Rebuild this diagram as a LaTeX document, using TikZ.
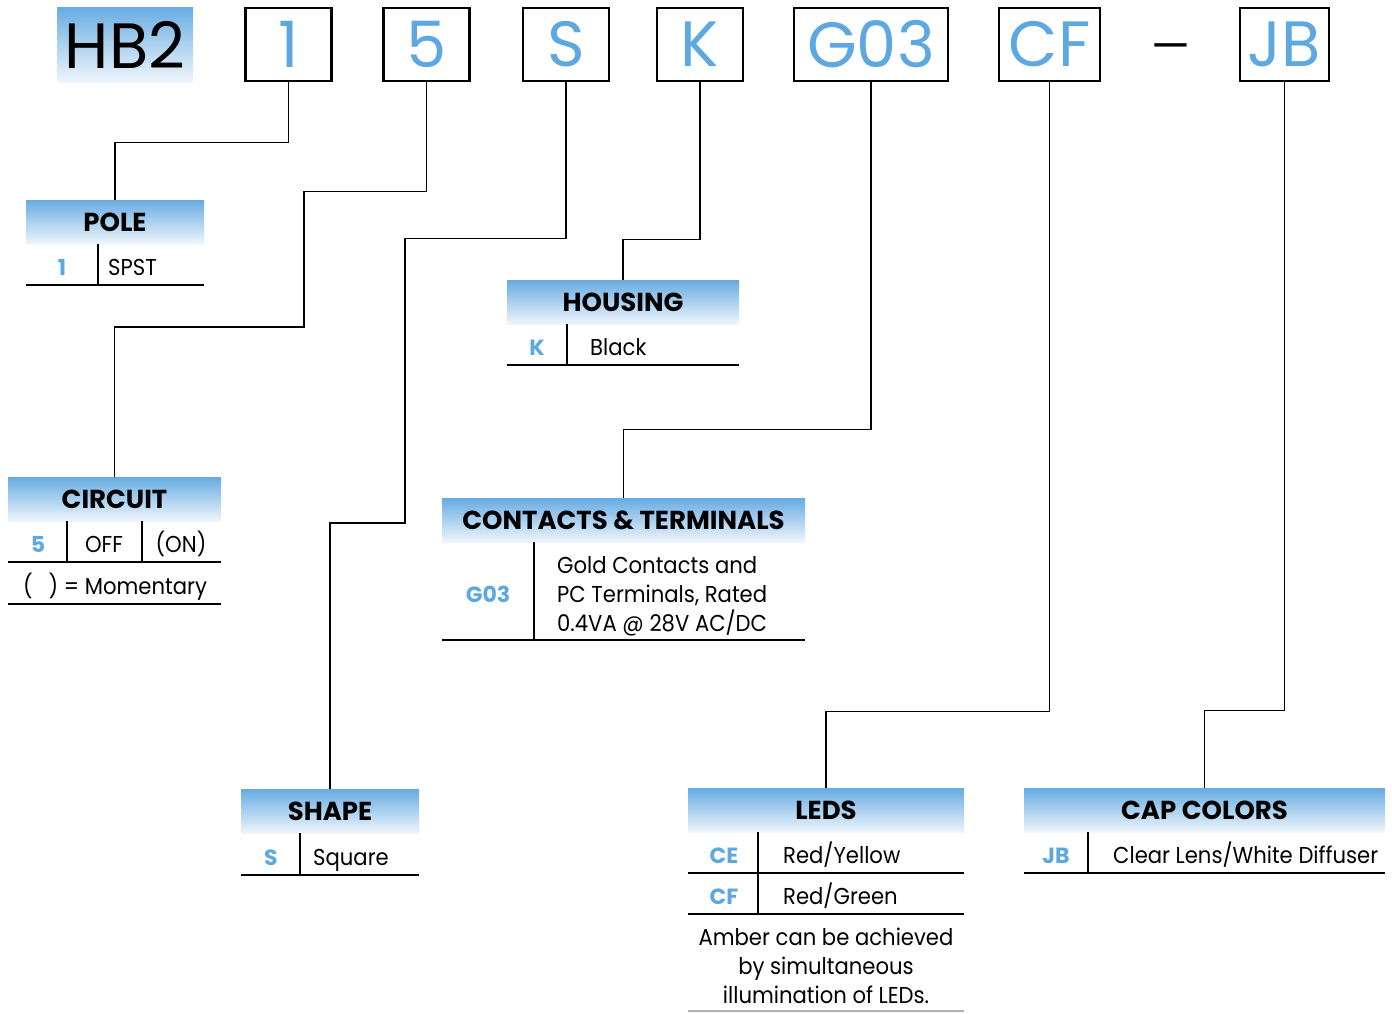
\documentclass[tikz,border=0pt]{standalone}
\usepackage{fontspec}
\setmainfont{Poppins}
\newfontfamily\bodyfont[FakeStretch=0.92]{Poppins}
\definecolor{codeblue}{RGB}{93,168,224}
\definecolor{hdrblue}{RGB}{104,172,226}
\definecolor{hdrpale}{RGB}{240,246,252}
\tikzset{
  codebox/.style={draw, line width=2.6pt, minimum height=73pt, inner sep=0pt,
    text=codeblue, font=\fontsize{64}{64}\selectfont},
  hdr/.style={top color=hdrblue, bottom color=hdrpale, minimum height=44pt,
    inner sep=0pt, font=\bfseries\fontsize{26}{26}\selectfont},
  code/.style={anchor=base, text=codeblue, inner sep=0pt,
    font=\bfseries\fontsize{22}{22}\selectfont},
  txt/.style={anchor=base west, inner sep=0pt, font=\bodyfont\fontsize{23}{23}\selectfont},
  lead/.style={line width=1.3pt},
  rule/.style={line width=1.6pt}
}
\begin{document}
\begin{tikzpicture}[x=1pt,y=-1pt]
  \useasboundingbox (0,0) rectangle (1392,1013);
  % part number
  \node[top color=hdrblue, bottom color=hdrpale, minimum width=136pt, minimum height=75pt,
    inner sep=0pt, font=\fontsize{64}{64}\selectfont] (hb) at (125,44.5) {HB2};
  \node[codebox, minimum width=86pt] (bpole) at (288.5,44.5) {1};
  \node[codebox, minimum width=86pt] (bcirc) at (426.5,44.5) {5};
  \node[codebox, minimum width=86pt] (bshape) at (566,44.5) {S};
  \node[codebox, minimum width=86pt] (bhous) at (700,44.5) {K};
  \node[codebox, minimum width=154pt] (bcont) at (871,44.5) {G03};
  \node[codebox, minimum width=101pt] (bleds) at (1049.5,44.5) {CF};
  \node[font=\fontsize{44}{44}\selectfont, inner sep=0pt, anchor=base] (dash) at (1171,61) {—};
  \node[codebox, minimum width=89pt] (bcap) at (1284.5,44.5) {JB};

  % pole
  \node[hdr, minimum width=178pt] (pole) at (115,222) {POLE};
  \node[code] (pole1) at (62,275) {1};
  \node[txt] (spst) at (108,275) {SPST};
  \draw[rule] (26,285) -- (204,285);
  \draw[rule] (98,244) -- (98,285);

  % housing
  \node[hdr, minimum width=232pt] (housing) at (623,302.5) {HOUSING};
  \node[code] (housk) at (537,355) {K};
  \node[txt] (black) at (590,355) {Black};
  \draw[rule] (507,365) -- (739,365);
  \draw[rule] (567,324) -- (567,365);

  % circuit
  \node[hdr, minimum width=213pt] (circuit) at (114.5,499.5) {CIRCUIT};
  \node[code] (circ5) at (38,552) {5};
  \node[txt, anchor=base] (off) at (104,552) {OFF};
  \node[txt, anchor=base] (on) at (181,552) {(ON)};
  \node[txt, anchor=base] (mom) at (115,594) {(\hspace{16pt}) = Momentary};
  \draw[rule] (8,562) -- (221,562);
  \draw[rule] (67,521) -- (67,562);
  \draw[rule] (142,521) -- (142,562);
  \draw[rule] (8,604) -- (221,604);

  % contacts & terminals
  \node[hdr, minimum width=363pt] (contacts) at (623.5,520.5) {CONTACTS \& TERMINALS};
  \node[code] (g03) at (488,602) {G03};
  \node[txt] (gold) at (557,573) {Gold Contacts and};
  \node[txt] (pcterm) at (557,602) {PC Terminals, Rated};
  \node[txt] (rated) at (557,631) {0.4VA @ 28V AC/DC};
  \draw[rule] (442,640) -- (805,640);
  \draw[rule] (534,542) -- (534,640);

  % shape
  \node[hdr, minimum width=178pt] (shape) at (330,811.5) {SHAPE};
  \node[code] (shapes) at (271,865) {S};
  \node[txt] (square) at (313,865) {Square};
  \draw[rule] (241,875) -- (419,875);
  \draw[rule] (300,833) -- (300,875);

  % leds
  \node[hdr, minimum width=276pt] (leds) at (826,810.5) {LEDS};
  \node[code] (ce) at (724,863) {CE};
  \node[txt] (redyel) at (783,863) {Red/Yellow};
  \node[code] (cf) at (724,904) {CF};
  \node[txt] (redgrn) at (783,904) {Red/Green};
  \node[txt, anchor=base] (amb1) at (826,945) {Amber can be achieved};
  \node[txt, anchor=base] (amb2) at (826,974) {by simultaneous};
  \node[txt, anchor=base] (amb3) at (826,1003) {illumination of LEDs.};
  \draw[rule] (688,873) -- (964,873);
  \draw[rule] (688,914) -- (964,914);
  \draw[rule] (758,832) -- (758,914);
  \draw[rule, gray!60] (688,1011) -- (964,1011);

  % cap colors
  \node[hdr, minimum width=361pt] (cap) at (1204.5,810.5) {CAP COLORS};
  \node[code] (jb) at (1056,863) {JB};
  \node[txt] (clear) at (1113,863) {Clear Lens/White Diffuser};
  \draw[rule] (1024,873) -- (1385,873);
  \draw[rule] (1088,832) -- (1088,873);

  % leads
  \draw[lead] (bpole.south) -- ++(0,60) -| (pole.north);
  \draw[lead] (bcirc.south) -- ++(0,109) -| (304,327) -| (circuit.north);
  \draw[lead] (bshape.south) -- ++(0,156) -| (405,523) -| (shape.north);
  \draw[lead] (bhous.south) -- ++(0,157) -| (housing.north);
  \draw[lead] (bcont.south) -- ++(0,347) -| (contacts.north);
  \draw[lead] (bleds.south) -- ++(0,629) -| (leds.north);
  \draw[lead] (bcap.south) -- ++(0,628) -| (cap.north);
\end{tikzpicture}
\end{document}
